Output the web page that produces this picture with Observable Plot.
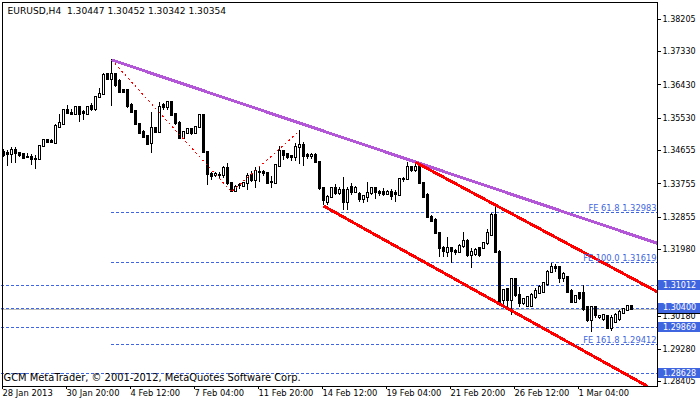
<!DOCTYPE html>
<html><head><meta charset="utf-8">
<script src="https://cdn.jsdelivr.net/npm/d3@7"></script>
<script src="https://cdn.jsdelivr.net/npm/@observablehq/plot@0.6"></script>
<style>
html,body{margin:0;padding:0;background:#fff;}
#chart svg{display:block;overflow:visible;}
#chart svg line,#chart svg rect,#chart svg path{shape-rendering:crispEdges;}
</style></head><body><div id="chart"></div>
<script>
const symbol = "EURUSD,H4";
const opens = [1.3461,1.3458,1.3454,1.3466,1.3457,1.3454,1.3448,1.3448,1.3442,1.3441,
1.3478,1.3493,1.3490,1.3486,1.3529,1.3536,1.3574,1.3567,1.3562,1.3581,
1.3569,1.3562,1.3585,1.3576,1.3610,1.3617,1.3671,1.3657,1.3671,1.3653,
1.3628,1.3628,1.3588,1.3572,1.3536,1.3515,1.3504,1.3484,1.3526,1.3515,
1.3588,1.3581,1.3595,1.3563,1.3540,1.3498,1.3513,1.3522,1.3513,1.3527,
1.3561,1.3460,1.3402,1.3398,1.3398,1.3398,1.3416,1.3376,1.3356,1.3371,
1.3369,1.3376,1.3398,1.3385,1.3407,1.3407,1.3403,1.3380,1.3378,1.3423,
1.3463,1.3455,1.3450,1.3446,1.3473,1.3479,1.3452,1.3451,1.3452,1.3434,
1.3362,1.3326,1.3338,1.3362,1.3351,1.3358,1.3326,1.3367,1.3353,1.3347,
1.3334,1.3340,1.3351,1.3362,1.3352,1.3353,1.3346,1.3353,1.3349,1.3345,
1.3387,1.3387,1.3419,1.3412,1.3421,1.3378,1.3344,1.3286,1.3277,1.3241,
1.3200,1.3191,1.3200,1.3193,1.3191,1.3206,1.3221,1.3182,1.3185,1.3200,
1.3200,1.3214,1.3236,1.3290,1.3191,1.3061,1.3089,1.3061,1.3116,1.3074,
1.3052,1.3044,1.3044,1.3068,1.3080,1.3083,1.3104,1.3137,1.3151,1.3151,
1.3119,1.3122,1.3086,1.3056,1.3079,1.3080,1.3042,1.3007,1.3041,1.3015,
1.3008,1.3017,1.2984,1.3002,1.3008,1.3026,1.3034,1.30447];
const highs = [1.3468,1.3466,1.3473,1.3473,1.3460,1.3459,1.3459,1.3455,1.3452,1.3479,
1.3496,1.3496,1.3496,1.3536,1.3562,1.3576,1.3587,1.3578,1.3583,1.3583,
1.3574,1.3586,1.3592,1.3612,1.3633,1.3673,1.3673,1.3711,1.3673,1.3657,
1.3631,1.3630,1.3592,1.3574,1.3538,1.3520,1.3506,1.3569,1.3529,1.3596,
1.3594,1.3596,1.3596,1.3565,1.3545,1.3518,1.3525,1.3526,1.3529,1.3563,
1.3562,1.3461,1.3407,1.3407,1.3407,1.3423,1.3430,1.3380,1.3371,1.3378,
1.3379,1.3403,1.3410,1.3419,1.3423,1.3412,1.3405,1.3396,1.3425,1.3477,
1.3466,1.3459,1.3452,1.3484,1.3519,1.3488,1.3457,1.3457,1.3457,1.3434,
1.3366,1.3344,1.3366,1.3373,1.3367,1.3392,1.3367,1.3378,1.3369,1.3353,
1.3344,1.3380,1.3367,1.3367,1.3358,1.3362,1.3358,1.3360,1.3358,1.3389,
1.3392,1.3434,1.3423,1.3434,1.3430,1.3380,1.3349,1.3290,1.3281,1.3242,
1.3206,1.3230,1.3203,1.3198,1.3212,1.3245,1.3225,1.3200,1.3201,1.3205,
1.3218,1.3252,1.3295,1.3322,1.3196,1.3089,1.3092,1.3119,1.3119,1.3096,
1.3066,1.3069,1.3079,1.3092,1.3101,1.3110,1.3142,1.3161,1.3158,1.3152,
1.3137,1.3125,1.3089,1.3074,1.3083,1.3101,1.3044,1.3044,1.3044,1.3020,
1.3023,1.3020,1.3020,1.3025,1.3034,1.3039,1.3047,1.30452];
const lows = [1.3448,1.3424,1.3430,1.3432,1.3446,1.3442,1.3444,1.3425,1.3414,1.3439,
1.3475,1.3488,1.3484,1.3482,1.3527,1.3534,1.3562,1.3561,1.3561,1.3542,
1.3547,1.3560,1.3572,1.3572,1.3607,1.3615,1.3655,1.3585,1.3637,1.3622,
1.3619,1.3579,1.3565,1.3534,1.3511,1.3500,1.3479,1.3457,1.3511,1.3515,
1.3574,1.3574,1.3558,1.3534,1.3495,1.3495,1.3511,1.3506,1.3509,1.3525,
1.3459,1.3371,1.3385,1.3392,1.3389,1.3389,1.3371,1.3354,1.3355,1.3361,
1.3367,1.3358,1.3380,1.3362,1.3380,1.3396,1.3376,1.3362,1.3378,1.3421,
1.3439,1.3441,1.3437,1.3437,1.3428,1.3423,1.3441,1.3441,1.3430,1.3358,
1.3316,1.3317,1.3336,1.3344,1.3344,1.3304,1.3304,1.3344,1.3349,1.3326,
1.3323,1.3326,1.3344,1.3333,1.3342,1.3342,1.3344,1.3331,1.3326,1.3342,
1.3379,1.3385,1.3407,1.3407,1.3376,1.3335,1.3281,1.3272,1.3239,1.3178,
1.3178,1.3178,1.3161,1.3182,1.3188,1.3200,1.3176,1.3146,1.3179,1.3178,
1.3198,1.3209,1.3234,1.3188,1.3052,1.3042,1.3034,1.3020,1.3069,1.3042,
1.3047,1.3041,1.3042,1.3062,1.3077,1.3079,1.3098,1.3134,1.3137,1.3106,
1.3110,1.3080,1.3053,1.3052,1.3061,1.3031,1.3001,1.2975,1.3012,1.3008,
1.3004,1.2982,1.2978,1.2998,1.3005,1.3023,1.3031,1.30342];
const closes = [1.3452,1.3454,1.3466,1.3457,1.3452,1.3445,1.3447,1.3441,1.3441,1.3478,
1.3493,1.3488,1.3488,1.3530,1.3538,1.3574,1.3565,1.3562,1.3581,1.3562,
1.3567,1.3583,1.3576,1.3610,1.3617,1.3668,1.3657,1.3671,1.3641,1.3624,
1.3622,1.3585,1.3569,1.3536,1.3513,1.3502,1.3482,1.3525,1.3515,1.3583,
1.3583,1.3595,1.3561,1.3538,1.3498,1.3515,1.3522,1.3513,1.3527,1.3561,
1.3461,1.3400,1.3396,1.3400,1.3397,1.3416,1.3376,1.3356,1.3367,1.3370,
1.3376,1.3396,1.3385,1.3410,1.3406,1.3403,1.3378,1.3379,1.3425,1.3463,
1.3452,1.3448,1.3446,1.3473,1.3479,1.3451,1.3451,1.3452,1.3434,1.3362,
1.3331,1.3338,1.3362,1.3349,1.3358,1.3326,1.3358,1.3353,1.3362,1.3334,
1.3342,1.3351,1.3362,1.3353,1.3349,1.3346,1.3353,1.3342,1.3347,1.3387,
1.3388,1.3419,1.3412,1.3421,1.3378,1.3340,1.3284,1.3275,1.3241,1.3200,
1.3194,1.3200,1.3194,1.3191,1.3206,1.3221,1.3182,1.3191,1.3196,1.3182,
1.3214,1.3241,1.3290,1.3191,1.3056,1.3088,1.3061,1.3116,1.3074,1.3052,
1.3062,1.3068,1.3074,1.3086,1.3096,1.3106,1.3137,1.3151,1.3147,1.3119,
1.3131,1.3083,1.3056,1.3071,1.3065,1.3036,1.3007,1.3041,1.3020,1.3016,
1.3020,1.2984,1.3011,1.3020,1.3029,1.3035,1.3044,1.30354];

const dateTickBars = [0,16,32,48,64,80,96,112,128,144];
const dateTickLabels = ["28 Jan 2013","30 Jan 20:00","4 Feb 12:00","7 Feb 04:00","11 Feb 20:00","14 Feb 12:00","19 Feb 04:00","21 Feb 20:00","26 Feb 12:00","1 Mar 04:00"];
const priceTicks = [1.38205,1.37330,1.36430,1.35530,1.34655,1.33755,1.32855,1.31980,1.30180,1.29280,1.28405];

// trend lines (bar index, price)
const purpleBars = [27, 163.4];
const purplePrices = [1.37110, 1.32153];
const redUpperBars = [103, 163.4];
const redUpperPrices = [1.34343, 1.30843];
const redLowerBars = [80, 161];
const redLowerPrices = [1.33160, 1.28286];
// Fibonacci expansion anchors A, B, C
const feBars = [27, 57, 74];
const fePrices = [1.37110, 1.33539, 1.35190];
const feLevels = [1.32983, 1.31619, 1.29412];
const feLabels = ["FE 61.8 1.32983", "FE 100.0 1.31619", "FE 161.8 1.29412"];
// horizontal lines
const hLevels = [1.31012, 1.30400, 1.29869, 1.28628];
const bidPrice = 1.30354;
const firstBar = -0.5, lastBar = 157, rightEdgeBar = 163.4;
const copyright = "GCM MetaTrader, © 2001-2012, MetaQuotes Software Corp.";

const BLUE = "#3F66E0";
const fmt = d => d.toFixed(5);
const bars = opens.map((o, i) => ({i, o, h: highs[i], l: lows[i], c: closes[i]}));
const last = bars.length - 1;
const header = symbol + "\u00a0\u00a0" + [opens[last], highs[last], lows[last], closes[last]].map(fmt).join(" ");
const pts = (bs, ps) => bs.map((b, k) => ({b, p: ps[k]}));

const plot = Plot.plot({
  width: 700, height: 402,
  marginLeft: 2, marginRight: 43, marginTop: 2, marginBottom: 16,
  style: {fontFamily: "DejaVu Sans", fontSize: "8px", background: "#fff", color: "#000", overflow: "visible"},
  x: {type: "linear", domain: [0, lastBar], range: [3, 631]},
  y: {type: "linear", domain: [1.28405, 1.38205], range: [381.4, 18.8]},
  marks: [
    Plot.ruleY(hLevels, {y: d => d, x1: firstBar, x2: rightEdgeBar, stroke: BLUE, strokeWidth: 1, strokeDasharray: "3,2"}),
    Plot.ruleY(feLevels, {y: d => d, x1: feBars[0], x2: rightEdgeBar, stroke: BLUE, strokeWidth: 1, strokeDasharray: "3,2"}),
    Plot.ruleY([bidPrice], {y: d => d, x1: firstBar, x2: rightEdgeBar, stroke: "#BDBDBD", strokeWidth: 1}),
    Plot.ruleX(bars, {x: "i", y1: "l", y2: "h", stroke: "#000", strokeWidth: 1}),
    Plot.rect(bars, {x1: d => d.i - 0.25, x2: d => d.i + 0.25, y1: "o", y2: "c",
      fill: d => d.c >= d.o ? "#ffffff" : "#000000", stroke: "#000", strokeWidth: 1,
      insetTop: -0.5, insetBottom: -0.5}),
    Plot.line(pts(feBars, fePrices), {x: "b", y: "p", stroke: "#FF0000", strokeWidth: 1, strokeDasharray: "2,3", strokeLinecap: "butt"}),
    Plot.line(pts(purpleBars, purplePrices), {x: "b", y: "p", stroke: "#B456D8", strokeWidth: 3, strokeLinecap: "butt"}),
    Plot.line(pts(redUpperBars, redUpperPrices), {x: "b", y: "p", stroke: "#FF0000", strokeWidth: 3, strokeLinecap: "butt"}),
    Plot.line(pts(redLowerBars, redLowerPrices), {x: "b", y: "p", stroke: "#FF0000", strokeWidth: 3, strokeLinecap: "butt"}),
    Plot.text(feLevels, {y: d => d, text: (d, i) => feLabels[i], frameAnchor: "right", textAnchor: "end",
      lineAnchor: "bottom", dx: -1, dy: -2, fill: BLUE, fontSize: 8.3}),
    Plot.frame({stroke: "#000"}),
    Plot.axisY(priceTicks, {anchor: "right", tickSize: 3, tickPadding: 2, tickFormat: fmt, fontSize: 8}),
    Plot.axisX(dateTickBars, {anchor: "bottom", tickSize: 3, tickPadding: 1, textAnchor: "start", dx: -1,
      tickFormat: d => dateTickLabels[dateTickBars.indexOf(d)], fontSize: 8.4}),
    Plot.text([header], {text: d => d, frameAnchor: "top-left", lineAnchor: "middle", textAnchor: "start", dx: 5, dy: 8.7, fontSize: 9.1, fill: "#000"}),
    Plot.text([copyright], {text: d => d, frameAnchor: "bottom-left", lineAnchor: "middle", textAnchor: "start", dx: 1, dy: -8.5, fontSize: 9.9, fill: "#000"})
  ]
});
document.getElementById("chart").appendChild(plot);

// price label boxes on the right axis, placed through the plot's y scale
const ys = plot.scale("y");
const svg = d3.select(plot);
const gb = svg.append("g").attr("text-anchor", "start");
// bid price box (mostly hidden beneath the 1.30400 label, as in the terminal)
gb.append("rect").attr("x", 658).attr("y", ys.apply(bidPrice) - 5).attr("width", 42).attr("height", 10).attr("fill", "#000");
hLevels.forEach(v => {
  const y = ys.apply(v);
  gb.append("rect").attr("x", 658).attr("y", y - 5).attr("width", 42).attr("height", 10).attr("fill", BLUE);
  gb.append("text").attr("x", 663).attr("y", y).attr("dy", "0.35em").attr("fill", "#fff")
    .attr("text-anchor", "start").attr("font-family", "DejaVu Sans").attr("font-size", 8).text(fmt(v));
});
</script></body></html>
